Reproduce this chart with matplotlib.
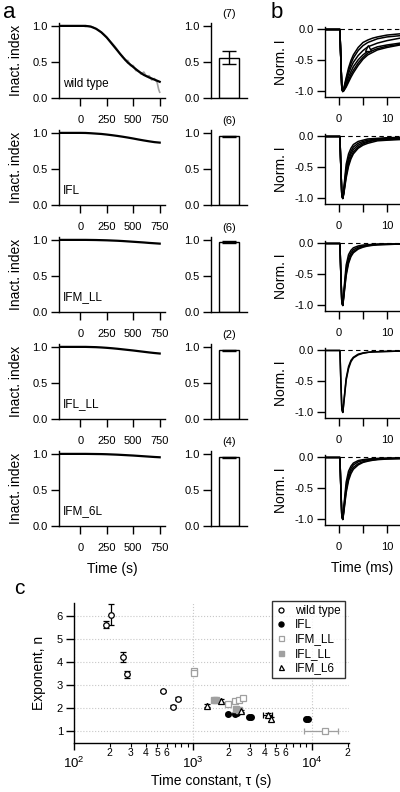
import matplotlib
matplotlib.use("Agg")
import matplotlib.pyplot as plt
import numpy as np
from matplotlib.ticker import FixedLocator, NullFormatter, FixedFormatter

plt.rcParams['font.family'] = ['Liberation Sans', 'DejaVu Sans']
plt.rcParams['mathtext.fontset'] = 'custom'
plt.rcParams['mathtext.rm'] = 'Liberation Sans'
plt.rcParams['mathtext.it'] = 'Liberation Sans:italic'
plt.rcParams['axes.linewidth'] = 1.0

W, H = 400, 792

# ---------------- data ----------------
constructs = ["wild type", "IFL", "IFM_LL", "IFL_LL", "IFM_6L"]

# panel a: fitted inactivation curves
t_fit = [-200, 0, 50, 100, 150, 200, 250, 300, 350, 400, 450, 500, 550, 600, 650, 700, 750]
fit_wt = [1.0, 1.0, 1.0, 0.99, 0.96, 0.91, 0.84, 0.75, 0.66, 0.57, 0.49, 0.43, 0.37, 0.32, 0.285, 0.255, 0.225]
fit_ifl = [1.0, 1.0, 0.999, 0.995, 0.99, 0.985, 0.977, 0.968, 0.958, 0.947, 0.935, 0.922, 0.908, 0.895, 0.883, 0.872, 0.865]
fit_ifmll = [1.0, 1.0, 1.0, 0.999, 0.998, 0.996, 0.994, 0.991, 0.988, 0.984, 0.979, 0.974, 0.969, 0.964, 0.958, 0.953, 0.948]
fit_iflll = [1.0, 1.0, 1.0, 0.998, 0.996, 0.992, 0.987, 0.981, 0.974, 0.966, 0.958, 0.950, 0.941, 0.932, 0.923, 0.915, 0.908]
fit_ifm6l = [1.0, 1.0, 1.0, 0.999, 0.998, 0.997, 0.995, 0.992, 0.989, 0.985, 0.981, 0.977, 0.972, 0.967, 0.962, 0.957, 0.953]
fits = [fit_wt, fit_ifl, fit_ifmll, fit_iflll, fit_ifm6l]

# raw wild-type inactivation data (gray)
t_raw = [0, 25, 50, 75, 100, 125, 150, 175, 200, 225, 250, 275, 300, 325, 350, 375, 400,
         425, 450, 475, 500, 525, 550, 575, 600, 625, 650, 675, 700, 725, 740, 750]
raw_wt = [1.0, 1.0, 0.99, 1.0, 0.99, 0.98, 0.96, 0.94, 0.91, 0.88, 0.84, 0.80, 0.76, 0.72, 0.67,
          0.61, 0.58, 0.52, 0.52, 0.45, 0.45, 0.38, 0.38, 0.33, 0.36, 0.30, 0.31, 0.25, 0.27, 0.22, 0.12, 0.08]

# bars
bar_vals = [0.56, 0.95, 0.97, 0.95, 0.95]
bar_errs = [0.085, 0.01, 0.008, 0.01, 0.012]
bar_n = ["(7)", "(6)", "(6)", "(2)", "(4)"]

# panel b: normalized currents
t_cur = [-2.9, 0.2, 0.4, 0.6, 0.8, 1.0, 1.5, 2.0, 2.5, 3.0, 4.0, 5.0, 6.0, 7.0, 8.0, 10.0, 12.7]
cur_wt = [
    [0, 0, -0.5, -0.95, -1.0, -0.95, -0.78, -0.62, -0.50, -0.41, -0.29, -0.21, -0.17, -0.14, -0.12, -0.09, -0.07],
    [0, 0, -0.5, -0.95, -1.0, -0.96, -0.81, -0.66, -0.55, -0.46, -0.34, -0.26, -0.21, -0.18, -0.15, -0.12, -0.10],
    [0, 0, -0.5, -0.95, -1.0, -0.97, -0.84, -0.71, -0.61, -0.53, -0.42, -0.34, -0.28, -0.25, -0.22, -0.18, -0.14],
    [0, 0, -0.5, -0.95, -1.0, -0.98, -0.88, -0.77, -0.68, -0.60, -0.49, -0.41, -0.35, -0.31, -0.28, -0.25, -0.22],
    [0, 0, -0.5, -0.95, -1.0, -0.99, -0.91, -0.82, -0.73, -0.66, -0.54, -0.45, -0.38, -0.34, -0.31, -0.27, -0.24],
    [0, 0, -0.5, -0.95, -1.0, -0.99, -0.93, -0.85, -0.77, -0.70, -0.58, -0.48, -0.41, -0.37, -0.33, -0.29, -0.25],
]
cur_ifl = [
    [0, 0, -0.5, -0.95, -1.0, -0.85, -0.45, -0.28, -0.19, -0.13, -0.08, -0.06, -0.04, -0.035, -0.03, -0.02, -0.015],
    [0, 0, -0.5, -0.95, -1.0, -0.88, -0.52, -0.34, -0.24, -0.17, -0.11, -0.08, -0.06, -0.05, -0.04, -0.03, -0.02],
    [0, 0, -0.5, -0.95, -1.0, -0.90, -0.58, -0.39, -0.28, -0.21, -0.14, -0.10, -0.08, -0.06, -0.05, -0.04, -0.03],
    [0, 0, -0.5, -0.95, -1.0, -0.92, -0.63, -0.44, -0.33, -0.25, -0.17, -0.12, -0.09, -0.07, -0.06, -0.05, -0.04],
    [0, 0, -0.5, -0.95, -1.0, -0.93, -0.67, -0.48, -0.36, -0.28, -0.19, -0.14, -0.11, -0.09, -0.07, -0.06, -0.05],
]
cur_ifmll = [
    [0, 0, -0.5, -0.95, -1.0, -0.78, -0.35, -0.18, -0.11, -0.07, -0.04, -0.025, -0.02, -0.015, -0.01, -0.01, -0.01],
    [0, 0, -0.5, -0.95, -1.0, -0.82, -0.42, -0.24, -0.15, -0.10, -0.06, -0.04, -0.03, -0.02, -0.015, -0.01, -0.01],
    [0, 0, -0.5, -0.95, -1.0, -0.85, -0.48, -0.29, -0.19, -0.13, -0.08, -0.05, -0.035, -0.025, -0.02, -0.015, -0.01],
    [0, 0, -0.5, -0.95, -1.0, -0.87, -0.52, -0.32, -0.21, -0.15, -0.09, -0.06, -0.04, -0.03, -0.02, -0.015, -0.01],
]
cur_iflll = [
    [0, 0, -0.5, -0.95, -1.0, -0.84, -0.45, -0.26, -0.16, -0.11, -0.06, -0.04, -0.03, -0.02, -0.02, -0.015, -0.01],
    [0, 0, -0.5, -0.95, -1.0, -0.86, -0.48, -0.29, -0.18, -0.12, -0.07, -0.045, -0.03, -0.025, -0.02, -0.015, -0.01],
]
cur_ifm6l = [
    [0, 0, -0.5, -0.95, -1.0, -0.80, -0.40, -0.22, -0.14, -0.09, -0.05, -0.035, -0.025, -0.02, -0.015, -0.01, -0.01],
    [0, 0, -0.5, -0.95, -1.0, -0.84, -0.47, -0.28, -0.18, -0.12, -0.07, -0.05, -0.035, -0.025, -0.02, -0.015, -0.01],
    [0, 0, -0.5, -0.95, -1.0, -0.87, -0.53, -0.33, -0.22, -0.16, -0.10, -0.07, -0.05, -0.04, -0.03, -0.02, -0.015],
    [0, 0, -0.5, -0.95, -1.0, -0.89, -0.57, -0.37, -0.26, -0.19, -0.12, -0.08, -0.06, -0.045, -0.035, -0.025, -0.02],
]
currents = [cur_wt, cur_ifl, cur_ifmll, cur_iflll, cur_ifm6l]

# panel c: time constant vs exponent
wt_tau = [185, 205, 258, 278, 560, 680, 750]
wt_n = [5.6, 6.05, 4.2, 3.45, 2.72, 2.05, 2.4]
wt_nerr = [0.15, 0.45, 0.22, 0.15, 0.05, 0.06, 0.06]
ifl_tau = [1970, 2250, 2330, 2950, 3080, 8900, 9200]
ifl_n = [1.72, 1.72, 1.76, 1.62, 1.62, 1.52, 1.52]
ifmll_tau = [1020, 1030, 1970, 2250, 2450, 2650, 12800]
ifmll_n = [3.62, 3.52, 2.15, 2.28, 2.35, 2.42, 1.0]
ifmll_taulo = [0, 0, 0, 0, 0, 0, 4200]
ifmll_tauhi = [0, 0, 0, 0, 0, 0, 3800]
iflll_tau = [1500, 1560, 2320, 2420]
iflll_n = [2.36, 2.34, 1.97, 1.93]
ifm6l_tau = [1300, 1720, 2550, 4250, 4500]
ifm6l_n = [2.1, 2.32, 1.87, 1.68, 1.53]
ifm6l_taulo = [0, 0, 0, 350, 0]
ifm6l_tauhi = [0, 0, 0, 350, 0]
ifm6l_nerr = [0.05, 0.05, 0.05, 0.08, 0.08]

legend_labels = ["wild type", "IFL", "IFM_LL", "IFL_LL", "IFM_L6"]

# ---------------- layout helpers ----------------
fig = plt.figure(figsize=(W / 100, H / 100), dpi=100)


def px_axes(left, top, right, bottom):
    return fig.add_axes([left / W, 1 - bottom / H, (right - left) / W, (bottom - top) / H])


def style(ax):
    for s in ['top', 'right']:
        ax.spines[s].set_visible(False)
    ax.tick_params(direction='out', length=6, width=1.0, labelsize=8, pad=2)


ROW = 107
for k in range(5):
    b0 = 98 + ROW * k
    # inactivation curve axes
    ax = px_axes(59, b0 - 75, 165, b0)
    style(ax)
    ax.set_xlim(-200, 800)
    ax.set_ylim(0, 1.04)
    ax.set_yticks([0, 0.5, 1.0])
    ax.set_yticklabels(["0.0", "0.5", "1.0"])
    ax.set_xticks([0, 250, 500, 750])
    ax.tick_params(axis='x', pad=6)
    if k == 0:
        ax.plot(t_raw, raw_wt, color='#a0a0a0', lw=1.2)
    ax.plot(t_fit, fits[k], color='black', lw=1.6)
    ax.text(-165, 0.2, constructs[k], fontsize=8.5, va='center', ha='left')
    ax.set_ylabel("Inact. index", fontsize=10, labelpad=7)
    if k == 4:
        ax.set_xlabel("Time (s)", fontsize=10, labelpad=7)

    # bar axes
    axb = px_axes(211, b0 - 75, 247, b0)
    style(axb)
    axb.set_xlim(0, 36)
    axb.set_ylim(0, 1.04)
    axb.set_yticks([0, 0.5, 1.0])
    axb.set_yticklabels(["0.0", "0.5", "1.0"])
    axb.set_xticks([])
    axb.bar([18], [bar_vals[k]], width=20, color='white', edgecolor='black', lw=1.0)
    axb.errorbar([18], [bar_vals[k]], yerr=[bar_errs[k]], color='black', capsize=5, lw=1.0, capthick=1.0)
    axb.text(18, 1.09, bar_n[k], ha='center', va='bottom', fontsize=8, clip_on=False)

    # current axes
    axc = px_axes(325, b0 - 1 - 70.3, 400, b0 - 1)
    style(axc)
    axc.set_xlim(-2.9, 12.7)
    axc.set_ylim(-1.09, 0.045)
    axc.set_yticks([-1.0, -0.5, 0.0])
    axc.set_yticklabels(["-1.0", "-0.5", "0.0"])
    axc.set_xticks([0, 5, 10])
    axc.set_xticklabels(["0", "", "10"])
    axc.tick_params(axis='x', pad=6)
    axc.plot([0.2, 12.7], [0, 0], color='black', lw=0.8, ls=(0, (4, 3)))
    for tr in currents[k]:
        axc.plot(t_cur, tr, color='black', lw=1.1)
    if k == 0:
        axc.plot([6.0], [-0.3], marker='^', ms=4, mfc='white', mec='black', lw=0)
    axc.set_ylabel("Norm. I", fontsize=10, labelpad=5)
    if k == 4:
        axc.set_xlabel("Time (ms)", fontsize=10, labelpad=7)

# ---------------- panel c ----------------
ax = px_axes(74, 603, 349, 743)
style(ax)
ax.set_xscale('log')
ax.set_xlim(100, 2.05e4)
ax.set_ylim(0.48, 6.55)
ax.set_yticks([1, 2, 3, 4, 5, 6])
ax.grid(True, which='major', color='#c8c8c8', ls=':', lw=0.8)
ax.set_axisbelow(True)
ax.xaxis.set_major_locator(FixedLocator([1e2, 1e3, 1e4]))
ax.xaxis.set_major_formatter(FixedFormatter([r"$\mathregular{10^2}$", r"$\mathregular{10^3}$",
                                             r"$\mathregular{10^4}$"]))
minors = [200, 300, 400, 500, 600, 700, 800, 900, 2000, 3000, 4000, 5000, 6000, 7000, 8000, 9000, 20000]
ax.xaxis.set_minor_locator(FixedLocator(minors))
ax.xaxis.set_minor_formatter(FixedFormatter(["2", "3", "4", "5", "6", "", "", "",
                                             "2", "3", "4", "5", "6", "", "", "", "2"]))
ax.tick_params(axis='x', which='major', length=5, pad=4.5, labelsize=9.5)
ax.tick_params(axis='x', which='minor', length=3, width=0.8, pad=0.8, labelsize=7.5, direction='out')

ms = 4
ax.errorbar(wt_tau, wt_n, yerr=wt_nerr, fmt='o', ms=ms, mfc='white', mec='black',
            ecolor='black', elinewidth=0.9, capsize=2, mew=0.9, label=legend_labels[0])
ax.errorbar(ifl_tau, ifl_n, yerr=[0.04] * len(ifl_n), xerr=[[60] * len(ifl_tau), [60] * len(ifl_tau)],
            fmt='o', ms=ms, mfc='black', mec='black', ecolor='black', elinewidth=0.9, capsize=1.5,
            label=legend_labels[1])
ax.errorbar(ifmll_tau, ifmll_n, yerr=[0.05] * len(ifmll_n), xerr=[ifmll_taulo, ifmll_tauhi],
            fmt='s', ms=ms, mfc='white', mec='#a0a0a0', ecolor='#a0a0a0', elinewidth=0.9, capsize=2,
            mew=0.9, label=legend_labels[2])
ax.errorbar(iflll_tau, iflll_n, yerr=[0.04] * len(iflll_n), fmt='s', ms=ms, mfc='#a0a0a0',
            mec='#a0a0a0', ecolor='#a0a0a0', elinewidth=0.9, capsize=1.5, label=legend_labels[3])
ax.errorbar(ifm6l_tau, ifm6l_n, yerr=ifm6l_nerr, xerr=[ifm6l_taulo, ifm6l_tauhi], fmt='^', ms=ms,
            mfc='white', mec='black', ecolor='black', elinewidth=0.9, capsize=2, mew=0.9,
            label=legend_labels[4])
ax.set_xlabel("Time constant, τ (s)", fontsize=10, labelpad=2)
ax.set_ylabel("Exponent, n", fontsize=10, labelpad=8)

handles, labels = ax.get_legend_handles_labels()
hs = [h[0] for h in handles]
leg = ax.legend(hs, labels, loc='upper left', bbox_to_anchor=((272 - 74) / 275, (743 - 600.5) / 140),
                borderaxespad=0, fontsize=8.5, frameon=True, fancybox=False, edgecolor='black',
                handlelength=0.8, handletextpad=0.8, borderpad=0.35, labelspacing=0.2, markerscale=0.9)
leg.get_frame().set_linewidth(1.0)

# panel letters
fig.text(9 / W, 1 - 13 / H, "a", fontsize=16, ha='center', va='center')
fig.text(277 / W, 1 - 13 / H, "b", fontsize=16, ha='center', va='center')
fig.text(19 / W, 1 - 588 / H, "c", fontsize=15, ha='center', va='center')

fig.savefig("out.png", dpi=100)
